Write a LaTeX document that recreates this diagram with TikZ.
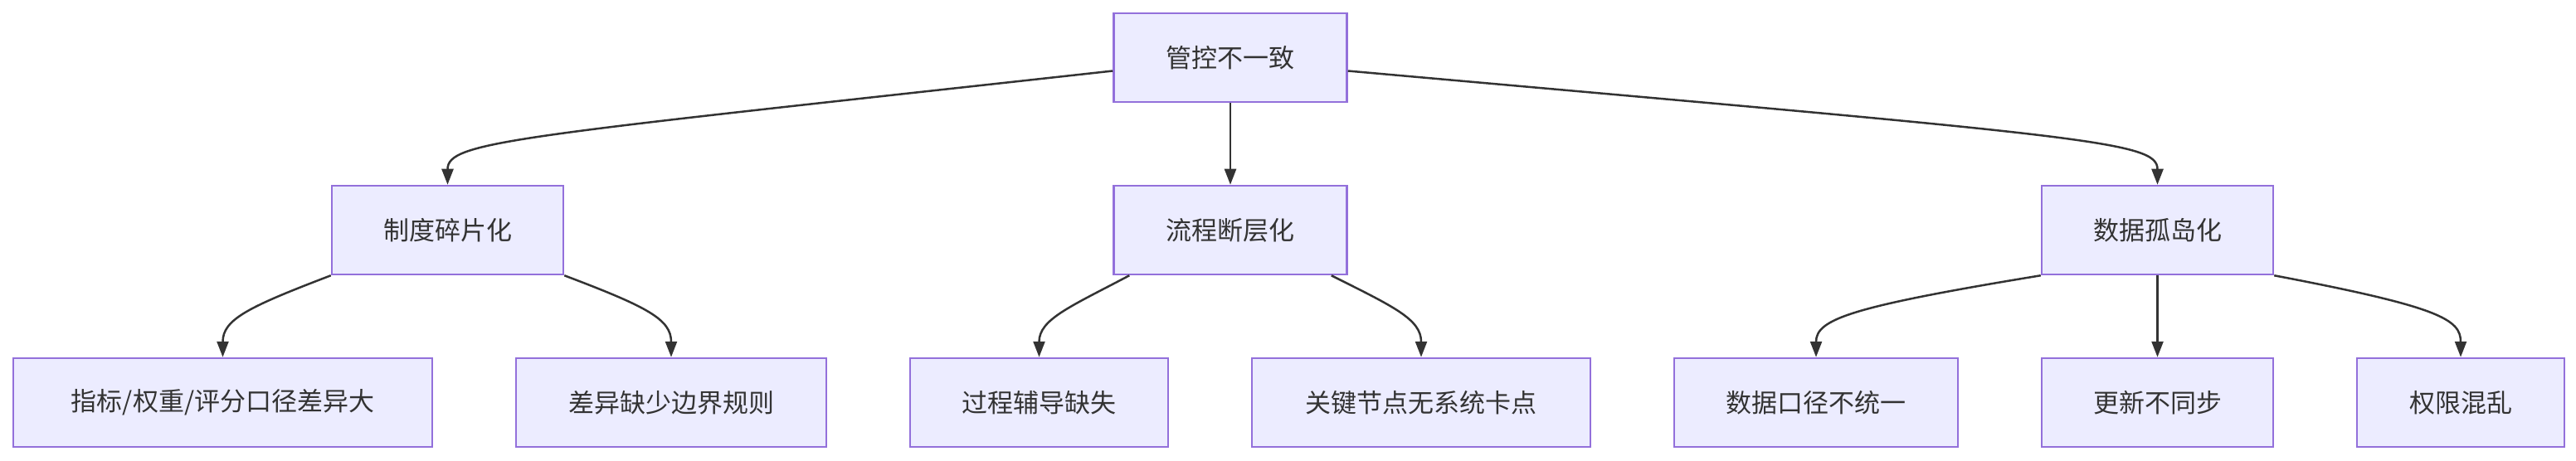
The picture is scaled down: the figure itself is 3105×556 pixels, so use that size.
\documentclass[tikz,border=0pt]{standalone}
\usepackage{fontspec}
\setmainfont{Noto Sans CJK SC}
\usetikzlibrary{arrows.meta}
\definecolor{bfill}{HTML}{ECECFF}
\definecolor{bdraw}{HTML}{9370DB}
\definecolor{lcol}{HTML}{333333}
\tikzset{
 box/.style={draw=bdraw,fill=bfill,line width=2.5pt,minimum height=107pt,inner sep=0pt,font=\fontsize{31}{36}\selectfont,text=lcol},
 conn/.style={draw=lcol,line width=2.5pt,-{Triangle[length=19pt,width=14pt]}}
}
\begin{document}
\begin{tikzpicture}[x=1pt,y=1pt]
\useasboundingbox (0,0) rectangle (3105,-556);
\node[box,minimum width=281pt] (r) at (1483,-69.5) {管控不一致};
\node[box,minimum width=279pt] (a) at (539.5,-277.5) {制度碎片化};
\node[box,minimum width=281pt] (b) at (1483,-277.5) {流程断层化};
\node[box,minimum width=279pt] (c) at (2600.5,-277.5) {数据孤岛化};
\node[box,minimum width=505pt] (a1) at (268.5,-485.5) {指标/权重/评分口径差异大};
\node[box,minimum width=374pt] (a2) at (809,-485.5) {差异缺少边界规则};
\node[box,minimum width=311pt] (b1) at (1252.5,-485.5) {过程辅导缺失};
\node[box,minimum width=408pt] (b2) at (1713,-485.5) {关键节点无系统卡点};
\node[box,minimum width=342pt] (c1) at (2189,-485.5) {数据口径不统一};
\node[box,minimum width=279pt] (c2) at (2600.5,-485.5) {更新不同步};
\node[box,minimum width=250pt] (c3) at (2966,-485.5) {权限混乱};
\draw[conn] ([yshift=-16pt]r.west) .. controls (620,-165) and (539.5,-170) .. (a.north);
\draw[conn] (r.south) -- (b.north);
\draw[conn] ([yshift=-16pt]r.east) .. controls (2520,-165) and (2600.5,-170) .. (c.north);
\draw[conn] (a.south west) .. controls (300,-370) and (268.5,-385) .. (a1.north);
\draw[conn] (a.south east) .. controls (780,-370) and (809,-385) .. (a2.north);
\draw[conn] ([xshift=20pt]b.south west) .. controls (1290,-370) and (1252.5,-385) .. (b1.north);
\draw[conn] ([xshift=-20pt]b.south east) .. controls (1680,-370) and (1713,-385) .. (b2.north);
\draw[conn] (c.south west) .. controls (2230,-370) and (2189,-385) .. (c1.north);
\draw[conn] (c.south) -- (c2.north);
\draw[conn] (c.south east) .. controls (2940,-370) and (2966,-385) .. (c3.north);
\end{tikzpicture}
\end{document}
